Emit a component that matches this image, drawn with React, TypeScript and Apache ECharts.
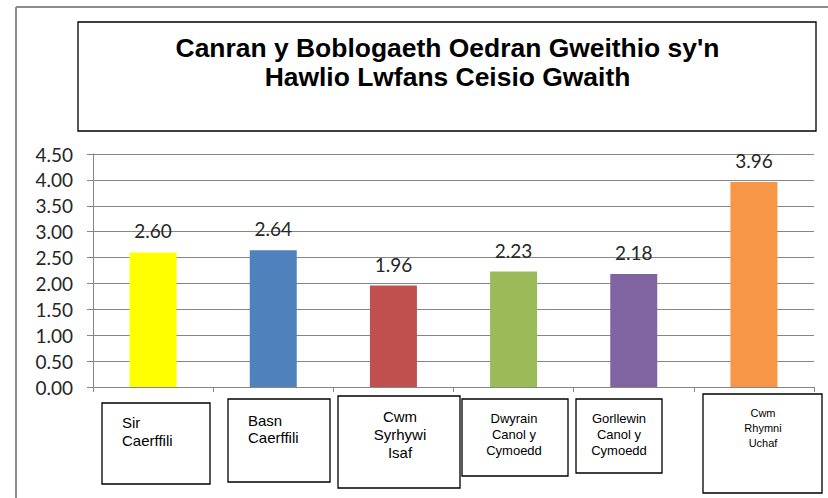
import React, { useEffect, useRef } from "react";
import * as echarts from "echarts";

const titleText = "Canran y Boblogaeth Oedran Gweithio sy'n\nHawlio Lwfans Ceisio Gwaith";
const categories = [
  "Sir\nCaerffili",
  "Basn\nCaerffili",
  "Cwm\nSyrhywi\nIsaf",
  "Dwyrain\nCanol y\nCymoedd",
  "Gorllewin\nCanol y\nCymoedd",
  "Cwm\nRhymni\nUchaf",
];
const values = [2.6, 2.64, 1.96, 2.23, 2.18, 3.96];
const barColors = ["#FFFF00", "#4F81BD", "#C0504D", "#9BBB59", "#8064A2", "#F79646"];
const yMin = 0;
const yMax = 4.5;
const yInterval = 0.5;

// layout of the category label boxes (positions only)
const boxLayout = [
  { x: 102, y: 403, w: 108, h: 81, align: "left", tx: 122, ty: 413, fs: 15, lh: 18 },
  { x: 228, y: 399, w: 102, h: 83, align: "left", tx: 248, ty: 412, fs: 15, lh: 17 },
  { x: 338, y: 396, w: 122, h: 92, align: "center", tx: 400, ty: 407, fs: 15, lh: 18 },
  { x: 462, y: 399, w: 106, h: 77, align: "center", tx: 514, ty: 410, fs: 13, lh: 16 },
  { x: 576, y: 399, w: 86, h: 74, align: "center", tx: 619, ty: 410, fs: 13, lh: 16 },
  { x: 703, y: 394, w: 119, h: 99, align: "center", tx: 763, ty: 405.5, fs: 11, lh: 15 },
];

export default function App() {
  const ref = useRef<HTMLDivElement>(null);
  useEffect(() => {
    document.body.style.margin = "0";
    if (!ref.current) return;
    const chart = echarts.init(ref.current, undefined, { renderer: "svg" });
    const graphics: any[] = [
      {
        type: "line",
        shape: { x1: 16, y1: 7, x2: 828, y2: 7 },
        style: { stroke: "#8c8c8c", lineWidth: 2 },
        silent: true,
      },
      {
        type: "line",
        shape: { x1: 16, y1: 7, x2: 16, y2: 498 },
        style: { stroke: "#8c8c8c", lineWidth: 2 },
        silent: true,
      },
      {
        type: "rect",
        shape: { x: 78, y: 22, width: 738, height: 109 },
        style: { fill: "#fff", stroke: "#000", lineWidth: 1.3 },
        silent: true,
      },
      {
        type: "text",
        x: 447.5,
        y: 34.5,
        scaleX: 1.058,
        style: {
          text: titleText,
          font: 'bold 25px "Liberation Sans", Arial, sans-serif',
          fill: "#000",
          textAlign: "center",
          textVerticalAlign: "top",
          lineHeight: 28.5,
        },
        silent: true,
      },
    ];
    categories.forEach((c, i) => {
      const b = boxLayout[i];
      graphics.push({
        type: "rect",
        shape: { x: b.x, y: b.y, width: b.w, height: b.h },
        style: { fill: "#fff", stroke: "#000", lineWidth: 1.3 },
        silent: true,
        z: 10,
      });
      graphics.push({
        type: "text",
        x: b.tx,
        y: b.ty,
        z: 11,
        style: {
          text: c,
          font: `${b.fs}px "Liberation Sans", Arial, sans-serif`,
          fill: "#000",
          textAlign: b.align,
          textVerticalAlign: "top",
          lineHeight: b.lh,
        },
        silent: true,
      });
    });

    chart.setOption({
      animation: false,
      backgroundColor: "#fff",
      grid: { left: 93, right: 14, top: 154, bottom: 111 },
      xAxis: {
        type: "category",
        data: categories,
        boundaryGap: true,
        axisLine: { show: true, lineStyle: { color: "#868686", width: 1 } },
        axisTick: { show: true, length: 5, lineStyle: { color: "#868686" } },
        axisLabel: { show: false },
        splitLine: { show: false },
      },
      yAxis: {
        type: "value",
        min: yMin,
        max: yMax,
        interval: yInterval,
        axisLine: { show: true, lineStyle: { color: "#868686", width: 1 } },
        axisTick: { show: true, length: 6, lineStyle: { color: "#868686" } },
        axisLabel: {
          formatter: (v: number) => v.toFixed(2),
          fontFamily: "Lato, sans-serif",
          fontSize: 19,
          color: "#262626",
          margin: 20,
        },
        splitLine: { show: true, lineStyle: { color: "#868686", width: 1 } },
      },
      series: [
        {
          type: "bar",
          barWidth: 47,
          data: values.map((v, i) => ({ value: v, itemStyle: { color: barColors[i] } })),
          label: {
            show: true,
            position: "top",
            distance: 12,
            formatter: (p: any) => Number(p.value).toFixed(2),
            fontFamily: "Lato, sans-serif",
            fontSize: 19,
            color: "#262626",
          },
        },
      ],
      graphic: graphics,
    });
    return () => chart.dispose();
  }, []);
  return <div ref={ref} style={{ width: 828, height: 498 }} />;
}
